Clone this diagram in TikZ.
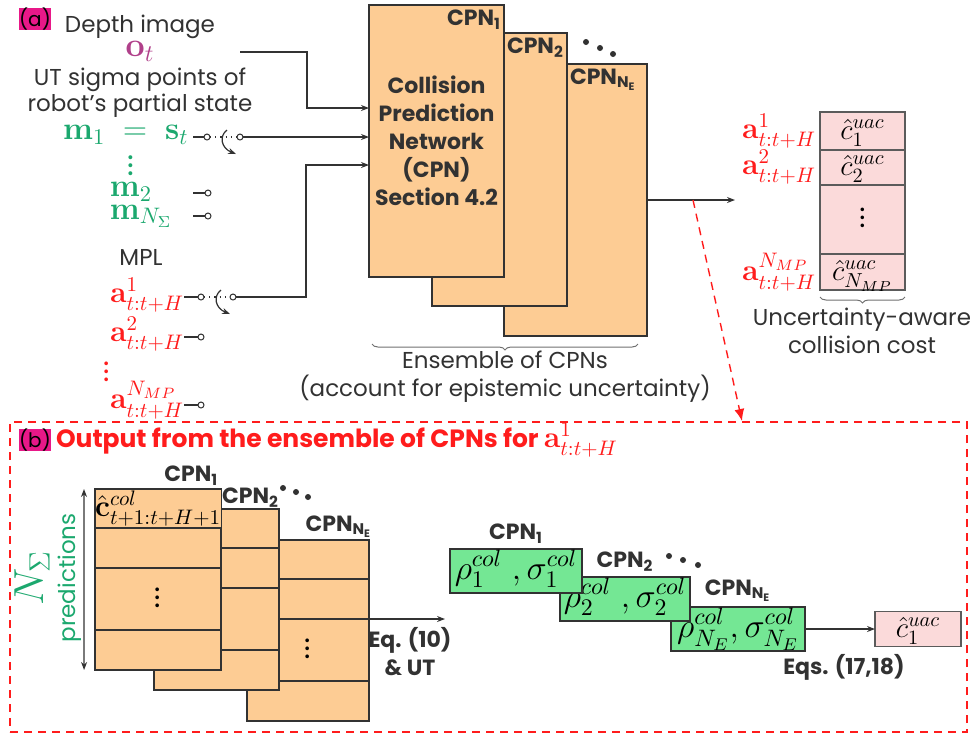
\RequirePackage{fix-cm}
\documentclass[tikz,border=0pt]{standalone}
\usepackage{amsmath}
\usepackage[no-math]{fontspec}
\setmainfont{Poppins}
\usepackage{tikz}
\usepackage{xcolor}
\usetikzlibrary{arrows.meta,positioning,calc,decorations.pathreplacing}
\definecolor{cpnorange}{RGB}{253,204,148}
\definecolor{costpink}{RGB}{251,218,218}
\definecolor{colgreen}{RGB}{116,231,148}
\definecolor{sigmagreen}{RGB}{27,168,110}
\definecolor{mplred}{RGB}{255,28,28}
\definecolor{obsplum}{RGB}{176,64,138}
\definecolor{tagmag}{RGB}{232,24,136}
\definecolor{inkgray}{RGB}{50,50,50}

\begin{document}
\begin{tikzpicture}[x=0.5pt,y=-0.5pt,>={Stealth[length=4pt,width=3pt]},
  every node/.style={inner sep=0pt,outer sep=0pt},
  plain/.style={font=\fontsize{11.5}{14}\selectfont,text=inkgray},
  tag/.style={fill=tagmag,font=\fontsize{10}{11}\selectfont,minimum width=14pt,minimum height=10.5pt},
  cpnhead/.style={font=\fontsize{11}{14}\selectfont\bfseries,text=inkgray},
  cpnbox/.style={draw=inkgray,line width=0.6pt,fill=cpnorange,anchor=north west,
    font=\fontsize{11}{14}\selectfont\bfseries,text=inkgray,align=center},
  sgreen/.style={text=sigmagreen,font=\fontsize{16}{18}\selectfont},
  ared/.style={text=mplred,font=\fontsize{15}{17}\selectfont},
  wire/.style={draw=inkgray,line width=0.6pt},
  term/.style={circle,draw=inkgray,fill=white,minimum size=3pt,line width=0.5pt},
  costcell/.style={draw=inkgray!80,line width=0.6pt,fill=costpink,minimum width=42.5pt,anchor=north west,
    font=\fontsize{14.5}{16}\selectfont,text height=9pt,text depth=1pt},
  stackcell/.style={draw=inkgray,line width=0.6pt,fill=cpnorange,anchor=north west,
    font=\fontsize{15}{17}\selectfont,text height=9pt,text depth=1pt},
  colbox/.style={draw=inkgray,line width=0.6pt,fill=colgreen,anchor=north west,minimum height=22pt,
    font=\fontsize{17}{19}\selectfont,text height=10pt,text depth=2pt},
  brace/.style={decorate,decoration={brace,mirror,amplitude=3pt},draw=inkgray!70,line width=0.5pt},
  reddash/.style={draw=mplred,line width=0.7pt,dash pattern=on 4pt off 3pt},
  titlered/.style={font=\fontsize{12.5}{14}\selectfont\bfseries,text=mplred}]
\useasboundingbox (0,0) rectangle (975,736);

% (a) inputs
\node[tag] (taga) at (35,19) {(a)};
\node[plain] (depth) at (140,27) {Depth image};
\node[text=obsplum,font=\fontsize{17}{19}\selectfont] (obs) at (140,51) {$\mathbf{o}_t$};
\node[plain] (utsig) at (140,80) {UT sigma points of};
\node[plain] (robst) at (140,106) {robot's partial state};
\node[sgreen,anchor=west] (m1) at (63,135) {$\mathbf{m}_1\;=\;\mathbf{s}_t$};
\node[sgreen] (mdots) at (131,160) {$\vdots$};
\node[sgreen] (m2) at (131,192) {$\mathbf{m}_2$};
\node[sgreen] (mN) at (141,216) {$\mathbf{m}_{N_\Sigma}$};
\node[plain] (mpl) at (141,257) {MPL};
\node[ared,anchor=east] (a1) at (184,295) {$\mathbf{a}^1_{t:t+H}$};
\node[ared,anchor=east] (a2) at (184,334) {$\mathbf{a}^2_{t:t+H}$};
\node[ared] (adots) at (107,366) {$\vdots$};
\node[ared,anchor=east] (aN) at (184,400) {$\mathbf{a}^{N_{MP}}_{t:t+H}$};

% ensemble of CPNs
\node[cpnbox,minimum width=71.5pt,minimum height=136pt] (cpnC) at (504,64) {};
\node[cpnbox,minimum width=67.5pt,minimum height=136.5pt] (cpnB) at (432,33) {};
\node[cpnbox,minimum width=67.5pt,minimum height=136pt] (cpnA) at (369,5)
  {Collision\\Prediction\\Network\\(CPN)\\Section 4.2};
\node[cpnhead,anchor=north east] (hA) at ($(cpnA.north east)+(-3,5)$) {CPN\textsubscript{1}};
\node[cpnhead,anchor=north west] (hB) at ($(cpnB.north west)+(75,5)$) {CPN\textsubscript{2}};
\node[cpnhead,anchor=north west] (hC) at ($(cpnC.north west)+(66,5)$) {CPN\textsubscript{N\textsubscript{E}}};
\foreach \p in {(586,42),(600,48),(613,54)} \fill[inkgray] \p circle (1.5pt);

% switches and wires
\node[term] (m1x) at (207,137) {};
\node[term] (m1y) at (240,137) {};
\node[term] (m2x) at (208,193) {};
\node[term] (mNx) at (208,216) {};
\node[term] (a1x) at (201,297) {};
\node[term] (a1y) at (233,297) {};
\node[term] (a2x) at (201,337) {};
\node[term] (aNx) at (201,405) {};
\coordinate (m1w) at (193,137);
\coordinate (m2w) at (193,193);
\coordinate (mNw) at (193,216);
\coordinate (obsout) at (240,52);
\coordinate (feedo) at (369,108);
\coordinate (feeda) at (369,165);
\coordinate (sw1) at (224,137);
\coordinate (sw2) at (218,297);

\draw[wire,->] (obsout) -| ($(feedo)+(-62,0)$) -- (feedo);
\draw[wire] (m1w) -- (m1x);
\draw[wire,dotted] (m1x) -- (m1y);
\draw[wire,->] (m1y) -- (cpnA.west |- m1y);
\draw[wire] (m2w) -- (m2x);
\draw[wire] (mNw) -- (mNx);
\draw[wire] (a1.east |- a1x) -- (a1x);
\draw[wire,dotted] (a1x) -- (a1y);
\draw[wire,->] (a1y) -| ($(feeda)+(-63,0)$) -- (feeda);
\draw[wire] (a2.east |- a2x) -- (a2x);
\draw[wire] (aN.east |- aNx) -- (aNx);
\draw[wire,->] ($(sw1)+(3,-7)$) .. controls ($(sw1)+(-5,-1)$) and ($(sw1)+(-3,11)$) .. ($(sw1)+(12,17)$);
\draw[wire,->] ($(sw2)+(3,-7)$) .. controls ($(sw2)+(-5,-1)$) and ($(sw2)+(-3,11)$) .. ($(sw2)+(12,17)$);

\draw[brace] (372,344) -- (638,344);
\node[plain,align=center] (ensem) at (505,377) {Ensemble of CPNs\\(account for epistemic uncertainty)};

% uncertainty-aware cost
\node[costcell,minimum height=19pt] (c1) at (820,112) {$\hat{c}^{uac}_1$};
\node[costcell,minimum height=17.5pt,below=0pt of c1] (c2) {$\hat{c}^{uac}_2$};
\node[costcell,minimum height=34.5pt,below=0pt of c2] (cdots) {$\vdots$};
\node[costcell,minimum height=18pt,below=0pt of cdots] (cN) {$\hat{c}^{uac}_{N_{MP}}$};
\node[ared,left=2pt of c1] (ca1) {$\mathbf{a}^1_{t:t+H}$};
\node[ared,left=2pt of c2] (ca2) {$\mathbf{a}^2_{t:t+H}$};
\node[ared,left=2pt of cN] (caN) {$\mathbf{a}^{N_{MP}}_{t:t+H}$};
\draw[brace] ($(cN.south west)+(0,7)$) -- ($(cN.south east)+(0,7)$);
\node[plain,align=center] (uacost) at (862,331) {Uncertainty-aware\\collision cost};

\coordinate (outtip) at (735,200);
\coordinate (tap) at (693,200);
\coordinate (btop) at (742,421);
\draw[wire,->] (cpnC.east) -- (outtip);
\draw[reddash,-{Latex[length=6pt,width=5pt]}] (tap) -- (btop);

% (b) one motion primitive
\node[reddash,anchor=north west,minimum width=478.5pt,minimum height=155pt] (panelb) at (10,422) {};
\node[tag] (tagb) at (35,440) {(b)};
\node[titlered,anchor=west] (btitle) at (56,440)
  {Output from the ensemble of CPNs for {\fontsize{15}{17}\selectfont$\mathbf{a}^1_{t:t+H}$}};

\foreach \s/\x/\y/\w/\c in {3/247/540/61pt/{},2/154/509/62.5pt/{},
    1/95/489/63pt/{$\hat{\mathbf{c}}^{col}_{t+1:t+H+1}$}}{
  \node[stackcell,minimum width=\w,minimum height=19.5pt] (s\s r1) at (\x,\y) {\c};
  \node[stackcell,minimum width=\w,minimum height=20pt,below=0pt of s\s r1] (s\s r2) {};
  \node[stackcell,minimum width=\w,minimum height=31pt,below=0pt of s\s r2] (s\s r3) {$\vdots$};
  \node[stackcell,minimum width=\w,minimum height=20pt,below=0pt of s\s r3] (s\s r4) {};
}
\node[cpnhead,anchor=south east] (bh1) at ($(s1r1.north east)+(-3,-4)$) {CPN\textsubscript{1}};
\node[cpnhead,anchor=south west] (bh2) at ($(s1r1.north east |- s2r1.north)+(1,-2)$) {CPN\textsubscript{2}};
\node[cpnhead,anchor=south east] (bh3) at ($(s3r1.north east)+(3,-3)$) {CPN\textsubscript{N\textsubscript{E}}};
\foreach \p in {(283,488),(296,492),(308,497)} \fill[inkgray] \p circle (1.5pt);
\draw[wire,<->] ($(s1r1.north west)+(-11,0)$) -- ($(s1r4.south west)+(-11,0)$);
\node[text=sigmagreen,font=\fontsize{21}{23}\selectfont,rotate=90] (nsig) at (32,578) {$N_\Sigma$};
\node[plain,text=sigmagreen,rotate=90] (predn) at (70,578) {predictions};

\coordinate (eqtip) at (445,619);
\draw[wire,->] (s3r2.south east) -- (eqtip);
\node[cpnhead,align=center] (eq10) at (410,652) {Eq. (10)\\\& UT};

\node[colbox,minimum width=67pt] (g3) at (671,607) {$\rho^{col}_{N_E},\sigma^{col}_{N_E}$};
\node[colbox,minimum width=65pt] (g2) at (560,577) {$\rho^{col}_2\;,\sigma^{col}_2$};
\node[colbox,minimum width=66pt] (g1) at (450,549) {$\rho^{col}_1\;,\sigma^{col}_1$};
\node[cpnhead,above=3pt of g1] (gh1) {CPN\textsubscript{1}};
\node[cpnhead,above=3pt of g2] (gh2) {CPN\textsubscript{2}};
\node[cpnhead,above=3pt of g3] (gh3) {CPN\textsubscript{N\textsubscript{E}}};
\foreach \p in {(669,556),(683,560),(698,565)} \fill[inkgray] \p circle (1.5pt);

\node[costcell,minimum width=43pt,minimum height=17.5pt,anchor=west] (uac1) at (875,629) {$\hat{c}^{uac}_1$};
\draw[wire,->] (g3.east) -- (uac1.west |- g3.east);
\node[cpnhead] (eqs) at (844,667) {Eqs. (17,18)};
\end{tikzpicture}
\end{document}
